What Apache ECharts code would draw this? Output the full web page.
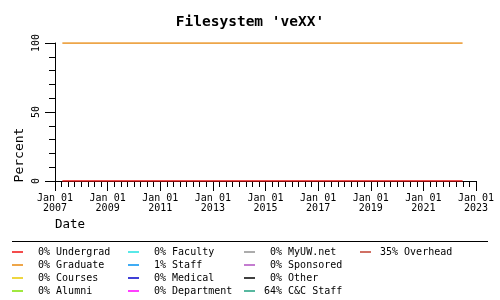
<!DOCTYPE html>
<html><head><meta charset="utf-8">
<script src="https://cdn.jsdelivr.net/npm/echarts@6/dist/echarts.min.js"></script>
<style>html,body{margin:0;padding:0;background:#fff}#c{width:500px;height:300px}</style>
</head><body><div id="c"></div>
<script>
// Data (decimal years on x)
const xYears = [2007.28, 2009, 2011, 2013, 2015, 2017, 2019, 2021, 2022.49];
const undergradVals = [0, 0, 0, 0, 0, 0, 0, 0, 0];
const graduateVals = [100, 100, 100, 100, 100, 100, 100, 100, 100];
const categories = ['Undergrad','Graduate','Courses','Alumni','Faculty','Staff','Medical','Department','MyUW.net','Sponsored','Other','C&C Staff','Overhead'];
const legendPct = [0, 0, 0, 0, 0, 1, 0, 0, 0, 0, 0, 64, 35];
const colors = ['#f01010','#e8880e','#e8c800','#80e000','#20e0e0','#0090f0','#0000c8','#ff00ff','#909090','#b050c0','#000000','#20a080','#c04030'];
const tickYears = [2007, 2009, 2011, 2013, 2015, 2017, 2019, 2021, 2023];

const FONT = '"DejaVu Sans Mono", monospace';
const valuesBySeries = { 'Undergrad': undergradVals, 'Graduate': graduateVals };
const series = categories.map((name, i) => ({
  name, type: 'line', showSymbol: false, animation: false,
  color: colors[i],
  lineStyle: { width: 1.5, color: colors[i] },
  data: (valuesBySeries[name] || []).map((v, k) => [xYears[k], v])
}));
const pad3 = s => (s.length < 3 ? ' '.repeat(3 - s.length) + s : s);
const cols = [categories.slice(0,4), categories.slice(4,8), categories.slice(8,12), categories.slice(12)];
const colLeft = [12, 128, 244, 360];
const legends = cols.map((d, ci) => ({
  data: d, orient: 'vertical', left: colLeft[ci], top: 245.5,
  itemGap: 0, itemWidth: 11, itemHeight: 1.5, icon: 'rect', selectedMode: false,
  padding: 0,
  textStyle: { fontFamily: FONT, fontSize: 10, color: '#000', lineHeight: 13, padding: [0,0,0,4] },
  formatter: n => pad3(legendPct[categories.indexOf(n)] + '%') + ' ' + n
}));

const chart = echarts.init(document.getElementById('c'), null, { renderer: 'canvas' });
chart.setOption({
  animation: false,
  title: { text: "Filesystem 'veXX'", left: 'center', top: 10,
    textStyle: { fontFamily: FONT, fontSize: 14.5, fontWeight: 'bold', color: '#000' } },
  grid: { left: 55, right: 24, top: 43, bottom: 119 },
  legend: legends,
  xAxis: {
    type: 'value', min: tickYears[0], max: tickYears[tickYears.length-1], interval: 2,
    axisLine: { lineStyle: { color: '#000', width: 1 } },
    axisTick: { length: 10, lineStyle: { color: '#000' } },
    minorTick: { show: true, splitNumber: 8, length: 6, lineStyle: { color: '#000' } },
    splitLine: { show: false },
    axisLabel: { fontFamily: FONT, fontSize: 10, color: '#000', lineHeight: 10, margin: 12,
      formatter: v => 'Jan 01\n' + v }
  },
  yAxis: {
    type: 'value', min: 0, max: 100, interval: 50,
    axisLine: { show: true, lineStyle: { color: '#000', width: 1 } },
    axisTick: { show: true, length: 10, lineStyle: { color: '#000' } },
    minorTick: { show: true, splitNumber: 5, length: 6, lineStyle: { color: '#000' } },
    splitLine: { show: false },
    axisLabel: { fontFamily: FONT, fontSize: 10, color: '#000', rotate: 90, margin: 14 }
  },
  graphic: [
    { type: 'line', shape: { x1: 12, y1: 241.5, x2: 488, y2: 241.5 }, style: { stroke: '#000', lineWidth: 1 } },
    { type: 'text', x: 20, y: 155, rotation: Math.PI/2,
      style: { text: 'Percent', fontFamily: FONT, fontSize: 13, fill: '#000', align: 'center', verticalAlign: 'middle' } },
    { type: 'text', x: 55, y: 225,
      style: { text: 'Date', fontFamily: FONT, fontSize: 12.5, fill: '#000', align: 'left', verticalAlign: 'middle' } }
  ],
  series
});
</script></body></html>
